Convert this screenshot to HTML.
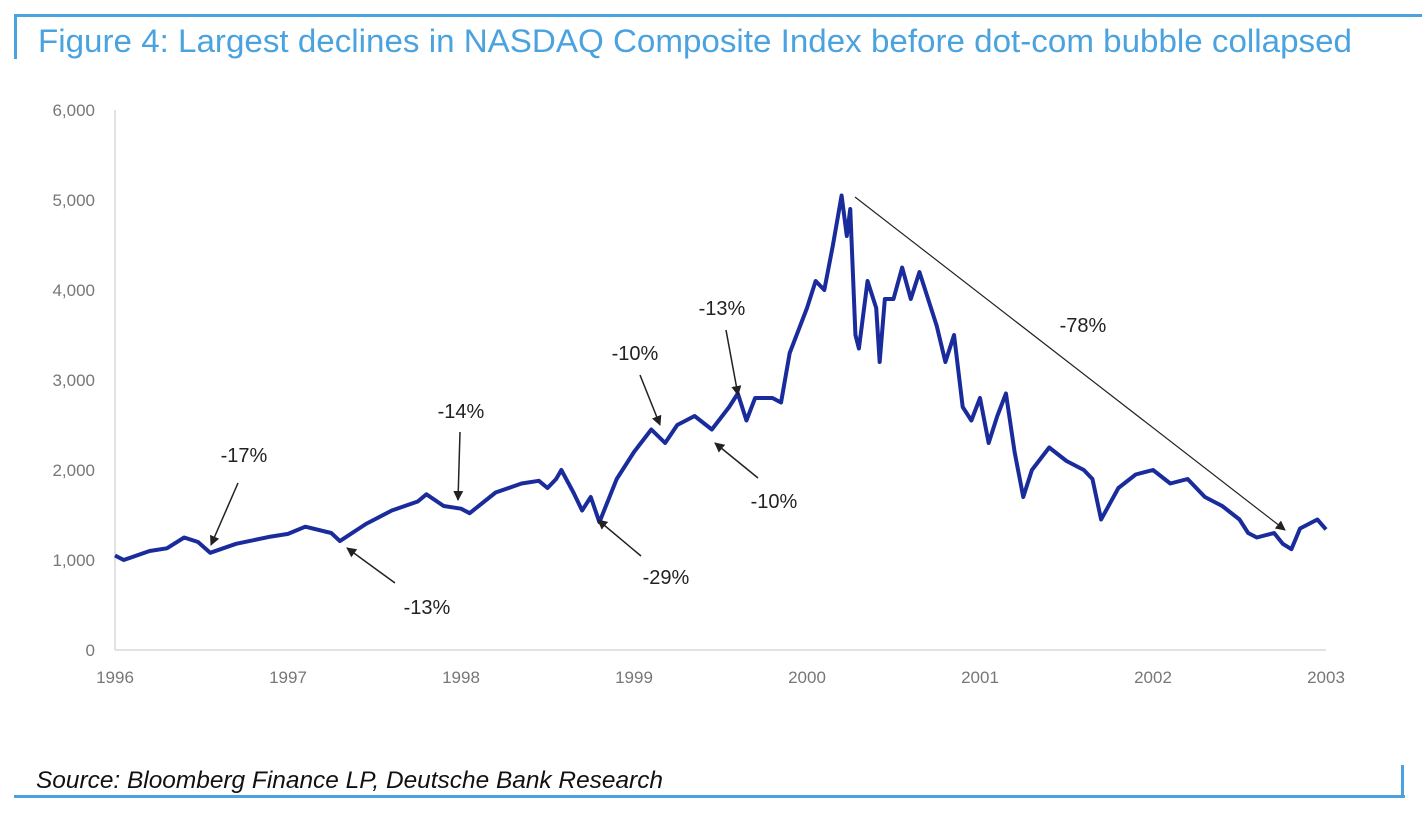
<!DOCTYPE html>
<html><head><meta charset="utf-8"><style>
body{margin:0;background:#fff;width:1422px;height:818px;overflow:hidden;font-family:"Liberation Sans",sans-serif}
</style></head><body>
<svg width="1422" height="818">
<defs><marker id="ah" markerWidth="10" markerHeight="10" refX="9" refY="5" orient="auto" markerUnits="userSpaceOnUse"><path d="M0,0 L10,5 L0,10 z" fill="#222"/></marker></defs>
<rect x="14" y="14" width="1408" height="3" fill="#4aa3df"/>
<rect x="14" y="14" width="3" height="45" fill="#4aa3df"/>
<text x="38" y="52" font-size="32" fill="#4aa3df" textLength="1314" lengthAdjust="spacingAndGlyphs">Figure 4: Largest declines in NASDAQ Composite Index before dot-com bubble collapsed</text>
<g id="axes"></g>
<g id="series"></g>
<g id="annos"></g>
<text x="36" y="788" font-size="24" font-style="italic" fill="#111" textLength="627" lengthAdjust="spacingAndGlyphs">Source: Bloomberg Finance LP, Deutsche Bank Research</text>
<rect x="14" y="795" width="1391" height="3" fill="#4aa3df"/>
<rect x="1401" y="765" width="3" height="33" fill="#4aa3df"/>
</svg>
<script>
const yTicks=[0,1000,2000,3000,4000,5000,6000];
const xTicks=[1996,1997,1998,1999,2000,2001,2002,2003];
const dates=[1996.0,1996.05,1996.2,1996.3,1996.4,1996.48,1996.55,1996.7,1996.9,1997.0,1997.1,1997.25,1997.3,1997.45,1997.6,1997.75,1997.8,1997.9,1998.0,1998.05,1998.2,1998.35,1998.45,1998.5,1998.55,1998.58,1998.65,1998.7,1998.75,1998.8,1998.9,1999.0,1999.1,1999.18,1999.25,1999.35,1999.45,1999.55,1999.6,1999.65,1999.7,1999.8,1999.85,1999.9,2000.0,2000.05,2000.1,2000.15,2000.2,2000.23,2000.25,2000.28,2000.3,2000.35,2000.4,2000.42,2000.45,2000.5,2000.55,2000.6,2000.65,2000.7,2000.75,2000.8,2000.85,2000.9,2000.95,2001.0,2001.05,2001.1,2001.15,2001.2,2001.25,2001.3,2001.4,2001.5,2001.6,2001.65,2001.7,2001.8,2001.9,2002.0,2002.1,2002.2,2002.3,2002.4,2002.5,2002.55,2002.6,2002.7,2002.75,2002.8,2002.85,2002.9,2002.95,2003.0];
const values=[1050,1000,1100,1130,1250,1200,1080,1180,1260,1290,1370,1300,1210,1400,1550,1650,1730,1600,1570,1520,1750,1850,1880,1800,1900,2000,1750,1550,1700,1420,1900,2200,2450,2300,2500,2600,2450,2700,2850,2550,2800,2800,2750,3300,3800,4100,4000,4500,5050,4600,4900,3500,3350,4100,3800,3200,3900,3900,4250,3900,4200,3900,3600,3200,3500,2700,2550,2800,2300,2600,2850,2200,1700,2000,2250,2100,2000,1900,1450,1800,1950,2000,1850,1900,1700,1600,1450,1300,1250,1300,1180,1120,1350,1400,1450,1340];
const annoLabels=["-17%","-13%","-14%","-29%","-10%","-13%","-10%","-78%"];
const NS="http://www.w3.org/2000/svg";
const X=d=>115+(d-1996)*173, Y=v=>650-v*0.09;
function mk(t,a,p){const e=document.createElementNS(NS,t);for(const k in a)e.setAttribute(k,a[k]);p.appendChild(e);return e;}
const ax=document.getElementById('axes');
let l=mk('line',{x1:115,y1:110,x2:115,y2:650,stroke:'#d9d9d9','stroke-width':1.5},ax);


l=mk('line',{x1:115,y1:650,x2:1326,y2:650,stroke:'#d9d9d9','stroke-width':1.5},ax);


yTicks.forEach(v=>{const t=mk('text',{x:95,y:Y(v)+6,'font-size':17,fill:'#777','text-anchor':'end'},ax);t.textContent=v.toLocaleString('en-US');

});
xTicks.forEach(v=>{const t=mk('text',{x:X(v),y:683,'font-size':17,fill:'#777','text-anchor':'middle'},ax);t.textContent=v;

});
const p=mk('polyline',{points:dates.map((d,i)=>X(d)+','+Y(values[i])).join(' '),fill:'none',stroke:'#1a2b9c','stroke-width':4,'stroke-linejoin':'round'},document.getElementById('series'));


const an=document.getElementById('annos');
const lp=[[244,462],[427,614],[461,418],[666,584],[635,360],[722,315],[774,508],[1083,332]];
const ar=[[238,483,211,545],[395,583,347,548],[460,432,458,500],[641,556,598,520],[640,375,660,425],[726,330,738,395],[758,478,715,443],[855,197,1285,530]];
annoLabels.forEach((s,i)=>{const t=mk('text',{x:lp[i][0],y:lp[i][1],'font-size':20,fill:'#222','text-anchor':'middle'},an);t.textContent=s;


const a=mk('line',{x1:ar[i][0],y1:ar[i][1],x2:ar[i][2],y2:ar[i][3],stroke:'#222','stroke-width':i==7?1.2:1.5,'marker-end':'url(#ah)'},an);

});
</script>
</body></html>
